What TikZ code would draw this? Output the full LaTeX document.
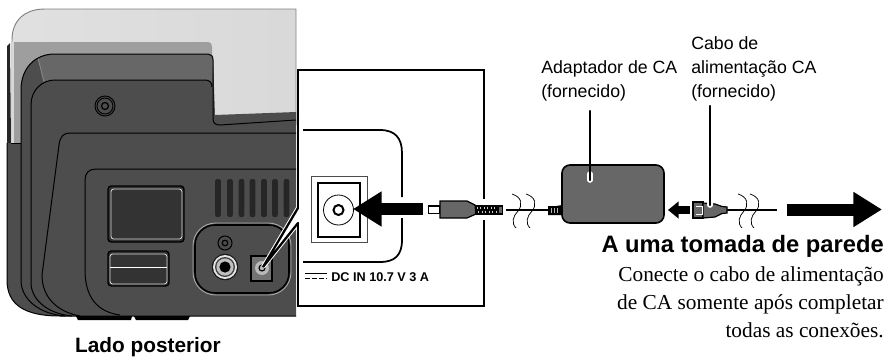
\documentclass[tikz,border=0pt]{standalone}
\usepackage{fontspec}
\setmainfont{Liberation Serif}
\setsansfont{Liberation Sans}
\usetikzlibrary{arrows.meta}
\definecolor{bodyc}{HTML}{4D4D4D}
\definecolor{bandc}{HTML}{676767}
\definecolor{panelc}{HTML}{333333}
\begin{document}
\begin{tikzpicture}[x=0.75pt,y=-0.75pt,
    every node/.style={inner sep=0pt},
    outl/.style={draw=black,line width=0.75pt},
    vent/.style={fill=black!85,rounded corners=1.5pt},
    bigarrow/.style={-{Triangle[length=21.5pt,width=25pt]},line width=9pt},
    smallarrow/.style={-{Triangle[length=8pt,width=12.5pt]},line width=5.5pt},
    leader/.style={line width=1.8pt,line cap=round},
    halo/.style={white,line width=4.2pt,line cap=round},
    cable/.style={line width=2.2pt},
    wavy/.style={line width=0.55pt},
    lbl/.style={font=\sffamily\fontsize{13.3pt}{18pt}\selectfont,align=left,anchor=north west},
    note/.style={font=\rmfamily\fontsize{16pt}{21.3pt}\selectfont,align=right,anchor=north east},
    grip/.style={fill=bandc,draw=black,line width=0.9pt}]
  \useasboundingbox (0,0) rectangle (889,357);

  % printer, back view
  \shade[left color=black!12,middle color=black!28,right color=black!15,draw=black!50,line width=0.7pt]
    (12,143) -- (12,40) .. controls (12,20) and (25,9) .. (45,9) -- (296,9) -- (296,125) -- (12,143) -- cycle;
  \fill[black!38] (14,42) -- (208,42) .. controls (211,42) and (212,44) .. (212,47) -- (212,60) -- (21,120) -- (21,143) -- (14,143) -- cycle;
  \fill[white!85!black] (12,42) rectangle (14,143);
  \fill[black!85] (7,46) -- (10,43) -- (11,143) -- (7,143) -- cycle;
  \fill[bodyc] (7,143) -- (21,143) -- (21,90) .. controls (21,68) and (35,54) .. (55,54) -- (208,54)
    .. controls (211,54) and (213,56) .. (213,60) -- (215,115) -- (296,112) -- (296,316) -- (60,316)
    .. controls (25,316) and (7,305) .. (7,280) -- cycle;
  \fill[bandc] (38,58) .. controls (43,56) and (48,54) .. (55,54) -- (208,54) .. controls (211,54) and (213,56) .. (213,60)
    -- (212,85) .. controls (212,82) and (209,80) .. (205,80) -- (55,80) .. controls (51,80) and (47,81) .. (44,82) -- cycle;
  \draw[black!45,line width=0.6pt] (38,58) -- (44,82);
  \draw[outl] (11,143) -- (21,143);
  \draw[outl] (7,143) -- (7,280) .. controls (7,305) and (25,316) .. (60,316) -- (296,316);
  \draw[outl] (21,280) -- (21,90) .. controls (21,68) and (35,54) .. (55,54) -- (208,54)
    .. controls (211,54) and (213,56) .. (213,60) -- (213,118) .. controls (213,123) and (215,125) .. (220,125) -- (296,120);
  \draw[outl] (21,280) .. controls (21,300) and (40,314) .. (65,316);
  \draw[outl] (31,285) -- (31,105) .. controls (31,90) and (42,80) .. (55,80) -- (205,80) .. controls (209,80) and (212,82) .. (212,87);
  \draw[outl] (31,285) .. controls (33,302) and (50,314) .. (72,316);
  \draw[outl] (80,316) .. controls (58,312) and (42,298) .. (42,275) -- (59,145) .. controls (60,137) and (63,133) .. (70,133) -- (296,133);
  \draw[outl] (120,315) .. controls (98,312) and (85,298) .. (85,270) -- (85,180) .. controls (85,173) and (89,169) .. (96,169) -- (296,169);
  \fill[black] (76,316) -- (132,316) -- (131,320) -- (78,320) -- cycle;
  \fill[black] (134,316) -- (190,316) -- (188,320) -- (136,320) -- cycle;
  \foreach \r/\w in {10/0.7,8/0.7,3.5/0.9} \draw[line width=\w pt] (105,106) circle (\r);

  % ports
  \draw[fill=panelc,draw=black,line width=1.1pt,rounded corners=2.5pt] (108,186) rectangle (184,242);
  \draw[draw=white!85!black,line width=0.6pt,rounded corners=2pt] (111,189) rectangle (182,239);
  \draw[fill=panelc,draw=black,line width=1.1pt,rounded corners=2.5pt] (108,251) rectangle (169,286);
  \draw[draw=white!85!black,line width=0.6pt,rounded corners=2pt] (110,254) rectangle (167,284);
  \draw[white,line width=0.7pt] (110,267) -- (167,267);
  \foreach \x in {218,230,241.5,252.5,264,275,286.5}
    \fill[vent] (\x-2.8,179) rectangle (\x+2.8,217);
  \draw[black!35,line width=0.7pt,rounded corners=17pt] (193,223) rectangle (291,295);
  \draw[black,line width=1.2pt,rounded corners=15pt] (195,225) rectangle (289,293);
  \draw[black,line width=0.8pt] (225,243) circle (7);
  \draw[black,line width=0.9pt] (225,243) circle (2.8);
  \fill[black!90] (225,267) circle (13.2);
  \fill[white!90!black] (225,267) circle (12);
  \fill[black!75] (225,267) circle (10);
  \fill[black!25] (225,267) circle (8.6);
  \fill[black] (225,267) circle (5.6);
  \draw[fill=black!55,draw=black,line width=0.9pt] (251,256) rectangle (272,281);
  \fill[black!28] (262,268) circle (7);
  \draw[black,line width=0.8pt] (262,268) circle (3);

  % enlarged view
  \coordinate (jack) at (263,267);
  \coordinate (zoomA) at (298,208);
  \coordinate (zoomB) at (298,223);
  \fill[white] (jack) -- (zoomA) -- (zoomB) -- cycle;
  \fill[white] (298,70) rectangle (484,306);
  \draw[white,line width=3.2pt] (jack) -- (zoomA) (jack) -- (zoomB);
  \draw[black,line width=1.7pt,line cap=round] (zoomA) -- (jack) -- (zoomB);
  \draw[line width=1.9pt] (zoomA) -- (298,70) -- (484,70) -- (484,306) -- (298,306) -- (zoomB);
  \draw[line width=1.3pt] (303,130) -- (380,130) .. controls (395,130) and (402,138) .. (402,153) -- (402,197);
  \draw[line width=1.3pt] (402,218) -- (402,240) .. controls (402,255) and (395,262) .. (380,262) -- (303,262);
  \draw[black!70,line width=0.6pt] (311,176) rectangle (367,242);
  \draw[line width=1.5pt] (317.5,182.5) rectangle (360,237);
  \draw[line width=0.6pt,fill=white] (338.5,210) circle (15);
  \draw[line width=1.5pt] (338.5,210) circle (5);
  \coordinate (inA) at (423,209);
  \coordinate (inB) at (353,209);
  \draw[bigarrow] (inA) -- (inB);

  % DC plug
  \fill[white] (482,199) rectangle (486,220);
  \draw[fill=white,line width=1pt] (428.5,206) rectangle (440,213.5);
  \draw[grip] (440,201) -- (467,201) -- (475,205) -- (476,214) -- (467,218) -- (440,218) -- cycle;
  \fill[black] (475,205) rectangle (503,214.5);
  \foreach \x in {477,480.5,...,496} \draw[white!80!black,line width=0.5pt] (\x,206.5) -- (\x,209) (\x+1.5,210.5) -- (\x+1.5,213);
  \fill[bandc] (498.5,206.5) rectangle (501.5,213);

  % adapter
  \node[draw=black,line width=1.2pt,fill=bandc,rounded corners=6pt,minimum width=76.5pt,minimum height=43.5pt] (adapter) at (613,194) {};
  \coordinate (cableA) at (506,210);
  \coordinate (cableB) at (549,210);
  \draw[cable] (cableA) -- (cableB);
  \fill[black] (548,206) -- (556,206) -- (562,205) -- (562,215) -- (556,215) -- (548,215) -- cycle;
  \foreach \x in {551,554,557} \draw[white!70!black,line width=0.5pt] (\x,208) -- (\x,213);
  \foreach \x in {512,526,738,750}
    \draw[wavy] (\x+0,194) .. controls (\x+10,197) and (\x+11,205) .. (\x+6,211) .. controls (\x+1,216) and (\x-1,223) .. (\x+4,228);

  % power cord
  \coordinate (cordA) at (725,210);
  \coordinate (cordB) at (777,210);
  \draw[cable] (cordA) -- (cordB);
  \draw[grip] (693,202) rectangle (703,218);
  \draw[grip] (703,203) -- (715,204) -- (722,206.5) -- (727,207) -- (727,213) -- (722,213.5) -- (715,217) -- (703,218) -- cycle;
  \draw[white,line width=0.6pt] (696,206) -- (702,206) -- (702,214) -- (696,214);

  % block arrows
  \coordinate (plugL) at (690,210);
  \coordinate (plugT) at (668,210);
  \draw[smallarrow] (plugL) -- (plugT);
  \coordinate (wallA) at (787,209.5);
  \coordinate (wallB) at (882,209.5);
  \draw[bigarrow] (wallA) -- (wallB);

  % labels
  \node[lbl] (adlabel) at (541,60.5) {Adaptador de CA\\(fornecido)};
  \node[lbl] (cordlabel) at (691,36.5) {Cabo de\\alimentação CA\\(fornecido)};
  \coordinate (adend) at (590,180);
  \coordinate (cordend) at (710,205);
  \draw[halo] (adend) -- +(0,-6);
  \draw[leader] (590,111) -- (adend);
  \draw[halo] (cordend) -- +(0,-6);
  \draw[leader] (710,106) -- (cordend);
  \node[font=\sffamily\bfseries\fontsize{17.8pt}{20pt}\selectfont,anchor=base east] (wall) at (884,252) {A uma tomada de parede};
  \node[note] (warn) at (884,266) {Conecte o cabo de alimentação\\de CA somente após completar\\todas as conexões.};
  \node[font=\sffamily\bfseries\fontsize{15.6pt}{18pt}\selectfont,anchor=base] (back) at (148,352) {Lado posterior};
  \node[font=\sffamily\bfseries\fontsize{9.5pt}{11pt}\selectfont,anchor=base west] (dclabel) at (331,281) {DC IN 10.7 V 3 A};
  \draw[line width=0.7pt] (305,273) -- (327,273);
  \draw[line width=0.7pt,dash pattern=on 4pt off 1.2pt] (305,278) -- (327,278);
\end{tikzpicture}
\end{document}
